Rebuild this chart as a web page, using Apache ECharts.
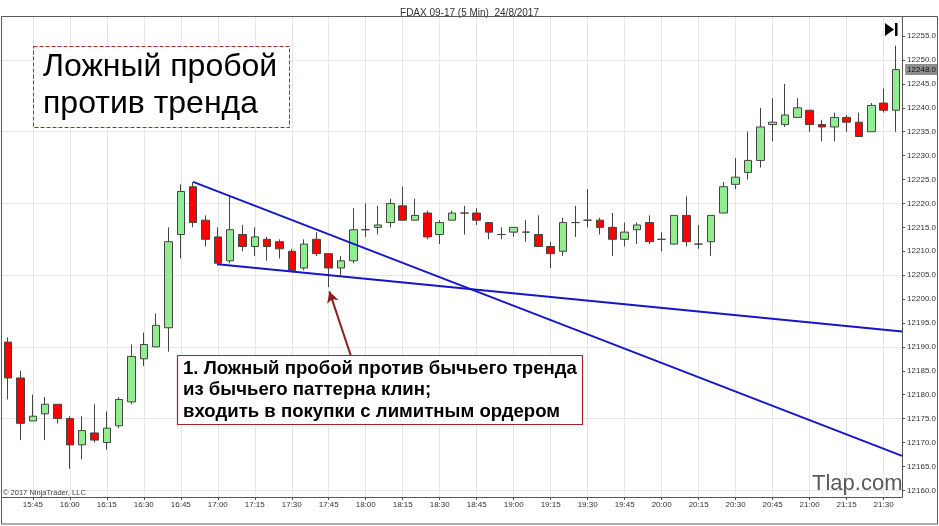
<!DOCTYPE html>
<html><head><meta charset="utf-8">
<script src="https://cdn.jsdelivr.net/npm/echarts@6/dist/echarts.min.js"></script>
<style>html,body{margin:0;padding:0;background:#fff}#c{width:939px;height:526px}</style>
</head><body><div id="c"></div>
<script>
// ---- data ----
const times = ['15:35','15:40','15:45','15:50','15:55','16:00','16:05','16:10','16:15','16:20','16:25','16:30','16:35','16:40','16:45','16:50','16:55','17:00','17:05','17:10','17:15','17:20','17:25','17:30','17:35','17:40','17:45','17:50','17:55','18:00','18:05','18:10','18:15','18:20','18:25','18:30','18:35','18:40','18:45','18:50','18:55','19:00','19:05','19:10','19:15','19:20','19:25','19:30','19:35','19:40','19:45','19:50','19:55','20:00','20:05','20:10','20:15','20:20','20:25','20:30','20:35','20:40','20:45','20:50','20:55','21:00','21:05','21:10','21:15','21:20','21:25','21:30','21:35'];
const open  = [12191,12183.5,12174.5,12176,12178,12175,12169.5,12172,12170,12173.5,12178.5,12187.5,12190,12194,12213.5,12223.5,12216.5,12213,12208,12213.5,12211,12212.5,12212,12210,12206.5,12212.5,12209.5,12206.5,12208,12214.5,12215,12216,12219.5,12216.5,12218,12213.5,12216.5,12218,12218,12216,12213.5,12214,12214,12213.5,12211,12210,12216,12216.5,12216.5,12215,12212.5,12214.5,12216,12212.5,12211.5,12217.5,12211.5,12212,12218,12224,12226.5,12229,12236.5,12236.5,12238,12239.5,12236.5,12236,12238,12237,12235,12241,12239.5];
const close = [12183.5,12174,12175.5,12178,12175,12169.5,12172.5,12170.5,12173,12179,12188,12190.5,12194.5,12212,12222.5,12216,12212.5,12207.5,12214.5,12211,12213,12211,12210.5,12206,12211.5,12209.5,12206.5,12208,12214.5,12214.5,12215.5,12220,12216.5,12217.5,12213,12216,12218,12218,12216.5,12214,12213.5,12215,12214,12211,12209.5,12216,12216,12216.5,12215,12212.5,12214,12215.5,12212,12212.5,12217.5,12212,12211.5,12217.5,12223.5,12225.5,12229,12236,12237,12238.5,12240,12236.5,12236,12238,12237,12234,12240.5,12239.5,12248];
const low   = [12179,12170.5,12174.5,12170.5,12174,12164.5,12166.5,12170,12168.5,12173,12178,12186,12190,12189,12208.5,12215,12211,12207,12207.5,12210,12209,12208,12208.5,12206,12206,12209,12202.5,12205,12207.5,12213,12213.5,12215,12216.5,12216.5,12212.5,12211.5,12216.5,12213.5,12215.5,12212.5,12212.5,12213,12212,12211,12206.5,12209,12213,12215,12213.5,12209,12211,12211.5,12211.5,12210,12211.5,12211,12210.5,12209,12218,12223,12225,12227.5,12233,12236,12238,12235,12233,12233,12235,12234,12235,12239,12235];
const high  = [12192,12185,12180,12179.5,12178,12175.5,12175.5,12178,12176.5,12179.5,12190.5,12193,12197,12215,12224,12224.5,12217.5,12215,12221.5,12215.5,12215,12213,12212.5,12210.5,12212.5,12214,12209.5,12209,12219,12220,12219.5,12221,12223.5,12221,12218.5,12216.5,12218.5,12219.5,12219,12216,12215,12215,12216.5,12217.5,12212,12217,12219.5,12223,12217,12218,12216,12216,12217.5,12214,12217.5,12221.5,12215.5,12217.5,12224.5,12229.5,12235,12240,12242,12245,12242,12239.5,12237.5,12239,12238.5,12239,12241,12244,12253];
// x tick labels (bar numbers, 1-based, every 15 minutes) and price ticks
const xLabelBars = [3,6,9,12,15,18,21,24,27,30,33,36,39,42,45,48,51,54,57,60,63,66,69,72];
const yLabelValues = [12160,12165,12170,12175,12180,12185,12190,12195,12200,12205,12210,12215,12220,12225,12230,12235,12240,12245,12250,12255];
const yGridValues = [12160,12175,12190,12205,12220,12235,12250];
// trend lines and arrow in data units (x = bar number, 1-based)
const upperTrend = [[16, 12224.5], [73.5, 12167.2]];
const lowerTrend = [[18, 12207.3], [73.5, 12193.2]];
const arrowFrom = [28.8, 12188.1];
const arrowTo = [27.05, 12201.6];
const lastPrice = 12248.0;
const chartTitle = 'FDAX 09-17 (5 Min)  24/8/2017';
const headline = ['Ложный пробой', 'против тренда'];
const note = ['1. Ложный пробой против бычьего тренда', 'из бычьего паттерна клин;', 'входить в покупки с лимитным ордером'];
const watermark = 'Tlap.com';
const copyright = '© 2017 NinjaTrader, LLC';

// ---- chart ----
const candles = times.map((t, i) => [i + 1, open[i], close[i], low[i], high[i]]);
const FONT = '"Liberation Sans", Arial, sans-serif';
const chart = echarts.init(document.getElementById('c'));
const num = v => {
  if (v && typeof v === 'object') v = v.value;
  return Number(String(v).replace(/,/g, ''));
};

chart.setOption({
  animation: false,
  backgroundColor: '#fff',
  title: {
    text: chartTitle, left: 'center', top: 3,
    textStyle: { fontSize: 10, fontWeight: 'normal', color: '#333', fontFamily: FONT }
  },
  grid: { left: 2, right: 36, top: 17, bottom: 29, show: false },
  xAxis: {
    type: 'value', min: 0.5, max: 73.5,
    axisLine: { show: true, onZero: false, lineStyle: { color: '#555' } },
    axisTick: { show: true, length: 3, customValues: xLabelBars, lineStyle: { color: '#555' } },
    axisLabel: {
      fontSize: 8, color: '#333', fontFamily: FONT, margin: 4, customValues: xLabelBars,
      formatter: v => { const n = Math.round(num(v)); return times[n - 1] || ''; }
    },
    splitLine: { show: true, lineStyle: { color: '#e6e6e6', width: 1 } }
  },
  yAxis: [
    {
      type: 'value', position: 'right', min: 12158.6, max: 12259,
      axisLine: { show: true, lineStyle: { color: '#555' } },
      axisTick: { show: true, length: 3, customValues: yLabelValues, lineStyle: { color: '#555' } },
      axisLabel: {
        fontSize: 8, color: '#333', fontFamily: FONT, margin: 5, customValues: yLabelValues,
        formatter: v => num(v).toFixed(1)
      },
      splitLine: { show: false }
    },
    {
      type: 'value', position: 'right', min: 12158.6, max: 12259,
      axisLine: { show: false },
      axisTick: { show: false, customValues: yGridValues },
      axisLabel: { show: false, customValues: yGridValues },
      splitLine: { show: true, lineStyle: { color: '#e6e6e6', width: 1 } }
    }
  ],
  series: [
    {
      type: 'candlestick', xAxisIndex: 0, yAxisIndex: 0,
      data: candles, encode: { x: 0, y: [1, 2, 3, 4] },
      barWidth: 8,
      itemStyle: {
        color: '#90ee90', color0: '#ff0000',
        borderColor: '#454545', borderColor0: '#454545', borderColorDoji: '#454545',
        borderWidth: 1
      },
      markLine: {
        silent: true, symbol: ['none', 'none'],
        lineStyle: { color: 'rgba(0,0,0,0)', width: 0 },
        label: {
          show: true, position: 'end', distance: 3,
          formatter: lastPrice.toFixed(1),
          fontSize: 8, color: '#111', fontFamily: FONT,
          backgroundColor: '#8e8e8e', padding: [2, 2, 1, 2], borderRadius: 1
        },
        data: [{ yAxis: lastPrice }]
      },
      z: 3
    },
    {
      type: 'line', xAxisIndex: 0, yAxisIndex: 0, data: upperTrend,
      symbol: 'none', silent: true,
      lineStyle: { color: '#1616c8', width: 2 }, z: 5,
      markLine: {
        silent: true, symbol: ['none', 'arrow'], symbolSize: [9, 11],
        lineStyle: { color: '#8b1e1e', width: 2, type: 'solid' },
        label: { show: false },
        data: [[{ coord: arrowFrom }, { coord: arrowTo }]]
      }
    },
    {
      type: 'line', xAxisIndex: 0, yAxisIndex: 0, data: lowerTrend,
      symbol: 'none', silent: true,
      lineStyle: { color: '#1616c8', width: 2 }, z: 5
    }
  ],
  graphic: [
    { type: 'rect', silent: true, z: 100, shape: { x: 1.5, y: 16.5, width: 936, height: 507.5 },
      style: { fill: 'none', stroke: '#5a5a5a', lineWidth: 1 } },
    { type: 'rect', silent: true, z: 100, shape: { x: 33.5, y: 46.5, width: 256, height: 81 },
      style: { fill: '#fff', stroke: '#a82a2a', lineWidth: 1, lineDash: [4, 2] } },
    { type: 'text', silent: true, z: 101, x: 43, y: 67.5,
      style: { text: headline[0], font: '32px ' + FONT, fill: '#000', verticalAlign: 'middle' } },
    { type: 'text', silent: true, z: 101, x: 43, y: 104.5,
      style: { text: headline[1], font: '32px ' + FONT, fill: '#000', verticalAlign: 'middle' } },
    { type: 'rect', silent: true, z: 100, shape: { x: 177.5, y: 355.5, width: 405, height: 69 },
      style: { fill: '#fff', stroke: '#a0262a', lineWidth: 1.2 } },
    { type: 'text', silent: true, z: 101, x: 183, y: 368.8,
      style: { text: note[0], font: 'bold 18.6px ' + FONT, fill: '#000', verticalAlign: 'middle' } },
    { type: 'text', silent: true, z: 101, x: 183, y: 390.3,
      style: { text: note[1], font: 'bold 18.6px ' + FONT, fill: '#000', verticalAlign: 'middle' } },
    { type: 'text', silent: true, z: 101, x: 183, y: 411.8,
      style: { text: note[2], font: 'bold 18.6px ' + FONT, fill: '#000', verticalAlign: 'middle' } },
    { type: 'text', silent: true, z: 101, x: 812, y: 484,
      style: { text: watermark, font: '22px ' + FONT, fill: '#5a5a5a', verticalAlign: 'middle' } },
    { type: 'text', silent: true, z: 101, x: 3, y: 492.5,
      style: { text: copyright, font: '7.5px ' + FONT, fill: '#444', verticalAlign: 'middle' } },
    { type: 'polygon', silent: true, z: 101, shape: { points: [[885, 23], [885, 36], [894, 29.5]] },
      style: { fill: '#000' } },
    { type: 'rect', silent: true, z: 101, shape: { x: 895, y: 23, width: 2.5, height: 13 },
      style: { fill: '#000' } }
  ]
});
</script></body></html>
